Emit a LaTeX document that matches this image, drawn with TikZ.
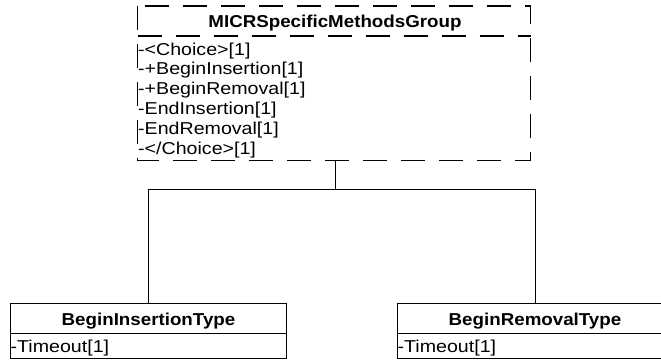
\documentclass[tikz,border=0pt]{standalone}
\usepackage{fontspec}
\setmainfont{Liberation Sans}[FakeStretch=1.14]
\newfontfamily\hdrfont{Liberation Sans}[FakeStretch=1.09]
\begin{document}
\begin{tikzpicture}[x=1pt,y=-1pt,
  boxline/.style={draw=black, line width=1.1pt},
  dashbox/.style={draw=black, line width=1.2pt, dash pattern=on 24pt off 14pt},
  conn/.style={draw=black, line width=1pt},
  hdr/.style={font=\hdrfont\fontsize{17.2}{19}\selectfont\bfseries, anchor=base, inner sep=0pt},
  attr/.style={font=\fontsize{17.2}{19}\selectfont, anchor=base west, inner sep=0pt}]
\useasboundingbox (0,0) rectangle (661,360);
\clip (0,0) rectangle (661,360);
% top dashed class
\draw[dashbox] (137.5,6) rectangle (530.5,160.5);
\draw[dashbox] (137.5,36) -- (530.5,36);
\coordinate (topc) at (335.7,160.5);
\node[hdr] (tophdr) at (335,27) {MICRSpecificMethodsGroup};
\node[attr] (a1) at (138,55) {-<Choice>[1]};
\node[attr] (a2) at (138,74.8) {-+BeginInsertion[1]};
\node[attr] (a3) at (138,94.6) {-+BeginRemoval[1]};
\node[attr] (a4) at (138,114.4) {-EndInsertion[1]};
\node[attr] (a5) at (138,134.2) {-EndRemoval[1]};
\node[attr] (a6) at (138,154) {-</Choice>[1]};
% bottom left class
\node[boxline, rectangle, minimum width=276pt, minimum height=55.5pt, anchor=north west, inner sep=0pt] (bi) at (10,302.8) {};
\draw[boxline] (10,333.3) -- (286,333.3);
\node[hdr] (bihdr) at (148.5,325) {BeginInsertionType};
\node[attr] (bit) at (10.5,352) {-Timeout[1]};
% bottom right class
\node[boxline, rectangle, minimum width=276pt, minimum height=55.5pt, anchor=north west, inner sep=0pt] (br) at (397,302.8) {};
\draw[boxline] (397,333.3) -- (673,333.3);
\node[hdr] (brhdr) at (535,325) {BeginRemovalType};
\node[attr] (brt) at (397.5,352) {-Timeout[1]};
% connectors
\coordinate (j) at (335.7,189.3);
\draw[conn] (topc) -- (j);
\draw[conn] (bi.north) |- (j) -| (br.north);
\end{tikzpicture}
\end{document}
